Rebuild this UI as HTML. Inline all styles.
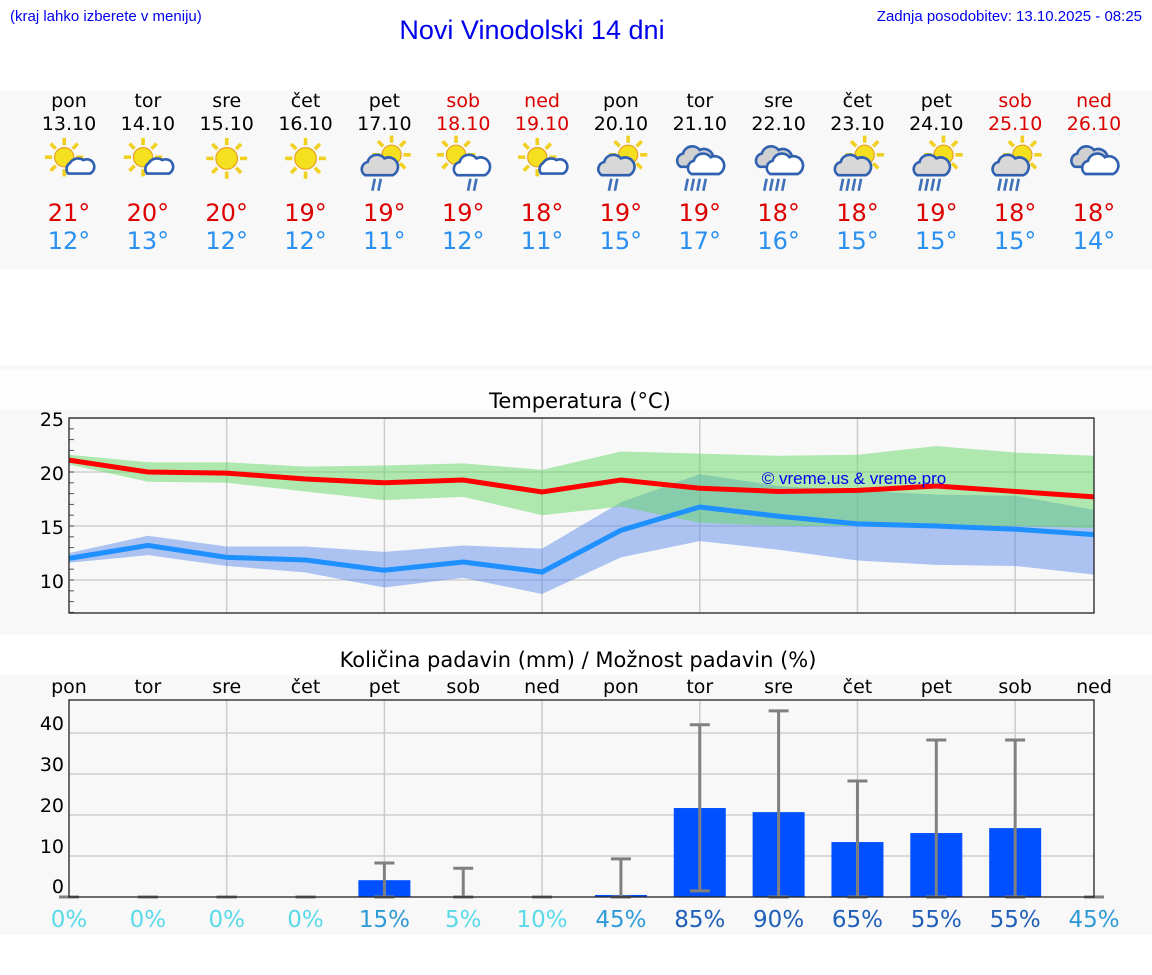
<!DOCTYPE html>
<html><head><meta charset="utf-8"><style>
body{margin:0;width:1152px;height:975px;background:#fff;font-family:"DejaVu Sans","Liberation Sans",sans-serif;overflow:hidden;position:relative}
</style></head><body>
<svg id="s" width="1152" height="975" style="position:absolute;left:0;top:0">
<rect x="0" y="90" width="1152" height="180" fill="#f8f8f8"/>
<rect x="0" y="365" width="1152" height="5" fill="#f8f8f8"/>
<rect x="0" y="370" width="1152" height="40" fill="#fdfdfd"/>
<rect x="0" y="410" width="1152" height="225" fill="#f8f8f8"/>
<rect x="0" y="675" width="1152" height="260" fill="#f8f8f8"/>
<text x="10" y="21" font-family="Liberation Sans" font-size="15" fill="#0000ee">(kraj lahko izberete v meniju)</text>
<text x="532" y="39" text-anchor="middle" font-family="Liberation Sans" font-size="27" fill="#0000ee">Novi Vinodolski 14 dni</text>
<text x="1142" y="21" text-anchor="end" font-family="Liberation Sans" font-size="15" fill="#0000ee">Zadnja posodobitev: 13.10.2025 - 08:25</text>
<text x="580" y="408" text-anchor="middle" font-size="21" fill="#000">Temperatura (°C)</text>
<text x="578" y="667" text-anchor="middle" font-size="21" fill="#000">Količina padavin (mm) / Možnost padavin (%)</text>
<g id="g"></g>
</svg>
<script>
const dayNames=["pon","tor","sre","čet","pet","sob","ned","pon","tor","sre","čet","pet","sob","ned"];
const dates=["13.10","14.10","15.10","16.10","17.10","18.10","19.10","20.10","21.10","22.10","23.10","24.10","25.10","26.10"];
const maxT=[21,20,20,19,19,19,18,19,19,18,18,19,18,18];
const minT=[12,13,12,12,11,12,11,15,17,16,15,15,15,14];
const icons=[0,0,1,1,2,3,0,2,4,4,5,5,5,6];
const maxLine=[21.1,20.0,19.9,19.35,19.0,19.26,18.15,19.26,18.5,18.2,18.3,18.7,18.2,17.7];
const maxHi=[21.6,20.9,20.9,20.5,20.6,20.8,20.2,21.9,21.7,21.5,21.6,22.4,21.8,21.5];
const maxLo=[20.7,19.1,19.0,18.2,17.4,17.7,16.0,16.8,15.3,15.0,15.0,15.0,15.0,14.8];
const minLine=[12.0,13.2,12.1,11.85,10.9,11.67,10.74,14.6,16.76,15.9,15.2,15.0,14.7,14.2];
const minHi=[12.5,14.1,13.1,13.1,12.6,13.2,12.9,17.2,19.8,18.7,18.3,17.9,17.8,16.5];
const minLo=[11.6,12.3,11.3,10.7,9.3,10.2,8.7,12.1,13.6,12.8,11.8,11.4,11.3,10.5];
const rain=[0,0,0,0,4.1,0,0,0.5,21.7,20.7,13.4,15.6,16.8,0];
const rainHi=[0,0,0,0,8.3,7,0,9.3,42,45.4,28.3,38.3,38.3,0];
const rainLo=[0,0,0,0,0,0,0,0,1.5,0,0,0,0,0];
const prob=[0,0,0,0,15,5,10,45,85,90,65,55,55,45];
const tTicks=[10,15,20,25];
const rTicks=[10,20,30,40];

const NS="http://www.w3.org/2000/svg",g=document.getElementById('g');
function el(t,a,p){const e=document.createElementNS(NS,t);for(const k in a)e.setAttribute(k,a[k]);(p||g).appendChild(e);return e}
const X=i=>69+i*1025/13;
const TY=v=>580-(v-10)*10.8;
const RY=v=>897-v*4.1;
const wk=i=>dayNames[i]=="sob"||dayNames[i]=="ned";
for(let i=0;i<14;i++){
 const c=wk(i)?"#dd0000":"#000";
 let t=el('text',{x:X(i),y:107,'text-anchor':'middle','font-size':19,fill:c});t.textContent=dayNames[i];
 
 t=el('text',{x:X(i),y:130,'text-anchor':'middle','font-size':19,fill:c});t.textContent=dates[i];
 
 t=el('text',{x:X(i),y:221,'text-anchor':'middle','font-size':24,fill:"#dd0000"});t.textContent=maxT[i]+"°";
 
 t=el('text',{x:X(i),y:249,'text-anchor':'middle','font-size':24,fill:"#2a90f0"});t.textContent=minT[i]+"°";
 
 const ig=el('g',{transform:`translate(${X(i)},162) scale(1.2)`});
 
 const ty=icons[i];
 const sun=(cx,cy,r)=>{for(let k=0;k<8;k++){const a=k*Math.PI/4;el('line',{x1:cx+Math.cos(a)*(r+2),y1:cy+Math.sin(a)*(r+2),x2:cx+Math.cos(a)*(r+8),y2:cy+Math.sin(a)*(r+8),stroke:'#f0d020','stroke-width':3},ig)}el('circle',{cx,cy,r,fill:'#f5e020',stroke:'#e8a020','stroke-width':1},ig)};
 const cloud=(cx,cy,s,f)=>{el('path',{d:`M${cx-11*s},${cy+7*s} a6 6 0 0 1 ${2*s},${-11*s} a8 8 0 0 1 ${14*s},${-3*s} a6 6 0 0 1 ${7*s},${14*s} z`,fill:f,stroke:'#3060b0','stroke-width':2.2},ig)};
 const drops=(cx,n)=>{for(let k=0;k<n;k++)el('line',{x1:cx+k*5,y1:14,x2:cx+k*5-2,y2:24,stroke:'#4070b8','stroke-width':2.2},ig)};
 if(ty==0){sun(-4,-4,8);cloud(8,4,0.8,'#fff')}
 else if(ty==1){sun(0,-3,9)}
 else if(ty==2){sun(6,-6,8);cloud(-5,4,1,'#d8d8d8');drops(-8,2)}
 else if(ty==3){sun(-6,-6,8);cloud(6,4,1,'#fff');drops(6,2)}
 else if(ty==4){cloud(-5,-3,1,'#d0d0d0');cloud(4,3,1,'#fff');drops(-10,4)}
 else if(ty==5){sun(6,-6,8);cloud(-5,4,1,'#d8d8d8');drops(-12,4)}
 else {cloud(-5,-3,1,'#d0d0d0');cloud(4,3,1,'#fff')}
}
const vx=[2,4,6,8,10,12];
for(const v of tTicks){el('line',{x1:69,x2:1094,y1:TY(v),y2:TY(v),stroke:'#d0d0d0','stroke-width':1.5});
 const t=el('text',{x:64,y:TY(v)+8,'text-anchor':'end','font-size':19,fill:'#000'});t.textContent=v;
 }
for(let v=7;v<=25;v++)el('line',{x1:69,x2:74,y1:TY(v),y2:TY(v),stroke:'#555','stroke-width':1});
for(const i of vx)el('line',{x1:X(i),x2:X(i),y1:418,y2:613,stroke:'#ccc','stroke-width':1.5});
function band(hi,lo,f,n){let d='';hi.forEach((v,i)=>d+=(i?'L':'M')+X(i)+','+TY(v));for(let i=lo.length-1;i>=0;i--)d+='L'+X(i)+','+TY(lo[i]);const p=el('path',{d:d+'Z',fill:f});}
function line(a,c,n){const p=el('polyline',{points:a.map((v,i)=>X(i)+','+TY(v)).join(' '),fill:'none',stroke:c,'stroke-width':5});}
band(minHi,minLo,'rgba(80,130,235,0.45)','min-temp-range');
band(maxHi,maxLo,'rgba(100,215,100,0.5)','max-temp-range');
line(maxLine,'#ff0000','max-temp-line');line(minLine,'#1e90ff','min-temp-line');
el('rect',{x:69,y:418,width:1025,height:195,fill:'none',stroke:'#222','stroke-width':1.3});
let w=el('text',{x:854,y:484,'text-anchor':'middle','font-family':'Liberation Sans','font-size':17,fill:'#0000ee'});w.textContent="© vreme.us & vreme.pro";

for(const v of rTicks){el('line',{x1:69,x2:1094,y1:RY(v),y2:RY(v),stroke:'#d0d0d0','stroke-width':1.5});
 const t=el('text',{x:64,y:RY(v)-3,'text-anchor':'end','font-size':19,fill:'#000'});t.textContent=v;
 }
let z=el('text',{x:64,y:893,'text-anchor':'end','font-size':19,fill:'#000'});z.textContent="0";
for(const i of vx)el('line',{x1:X(i),x2:X(i),y1:700,y2:897,stroke:'#ccc','stroke-width':1.5});
for(let i=0;i<14;i++){
 const t=el('text',{x:X(i),y:693,'text-anchor':'middle','font-size':19,fill:'#000'});t.textContent=dayNames[i];
 
 if(rain[i]>0){const b=el('rect',{x:X(i)-26,y:RY(rain[i]),width:52,height:RY(0)-RY(rain[i]),fill:'#0050ff'});
  }
 const hiY=RY(rainHi[i]),loY=RY(rainLo[i]);
 const eb=el('g',{stroke:'#808080','stroke-width':3});
 
 el('line',{x1:X(i),x2:X(i),y1:hiY,y2:loY},eb);
 el('line',{x1:X(i)-10,x2:X(i)+10,y1:hiY,y2:hiY},eb);
 el('line',{x1:X(i)-10,x2:X(i)+10,y1:loY,y2:loY},eb);
 const p=prob[i],col=p>=50?'#1f5fb8':p>=15?'#2e9ad6':'#5ad9e8';
 const pt=el('text',{x:X(i),y:927,'text-anchor':'middle','font-size':23,fill:col});pt.textContent=p+"%";
 
}
el('rect',{x:69,y:700,width:1025,height:197,fill:'none',stroke:'#222','stroke-width':1.3});
</script>
</body></html>
